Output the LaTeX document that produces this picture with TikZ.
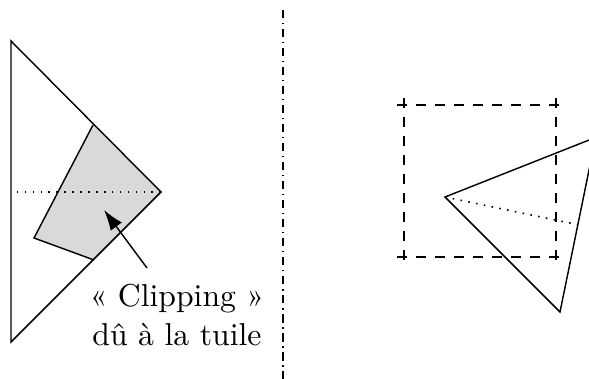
\documentclass[tikz,border=0pt]{standalone}
\usepackage{fontspec}
\usepackage{tikz}
\usetikzlibrary{arrows.meta}

\begin{document}
\begin{tikzpicture}[x=0.3155pt,y=-0.3155pt,
        edge/.style={line width=0.45pt},
        median/.style={line width=0.5pt,dotted},
        tile/.style={line width=0.5pt,dash pattern=on 3pt off 3pt},
        sep/.style={line width=0.5pt,dash pattern=on 2.6pt off 1.5pt on 0.4pt off 1.5pt}]
      \useasboundingbox (0,0) rectangle (589,379);
      % left: triangle clipped by the tile
      \fill[gray!30] (93,125) -- (161,192) -- (94,260) -- (34,238) -- cycle;
      \draw[edge] (93,125) -- (34,238) -- (94,260);
      \draw[edge] (11,41) -- (161,192) -- (11,342) -- cycle;
      \draw[median] (161,192) -- (11,192);
      % label
      \node[align=center,inner sep=0pt] (lbl) at (177,315) {« Clipping »\\dû à la tuile};
      \coordinate (tail) at (147,268);
      \coordinate (tip) at (104,210);
      \draw[edge,-{Latex[length=6.5pt,width=4.4pt]}] (tail) -- (tip);
      % separator
      \draw[sep] (283,10) -- (283,379);
      % right: tile
      \draw[tile] (397,105) -- (563,105);
      \draw[tile] (397,257) -- (563,257);
      \draw[tile] (404,98) -- (404,263);
      \draw[tile] (556,98) -- (556,263);
      % right: triangle
      \draw[edge] (445,197) -- (595.7,137.4) -- (560,312) -- cycle;
      \draw[median] (445,197) -- (577.9,224.7);
    \end{tikzpicture}
\end{document}
